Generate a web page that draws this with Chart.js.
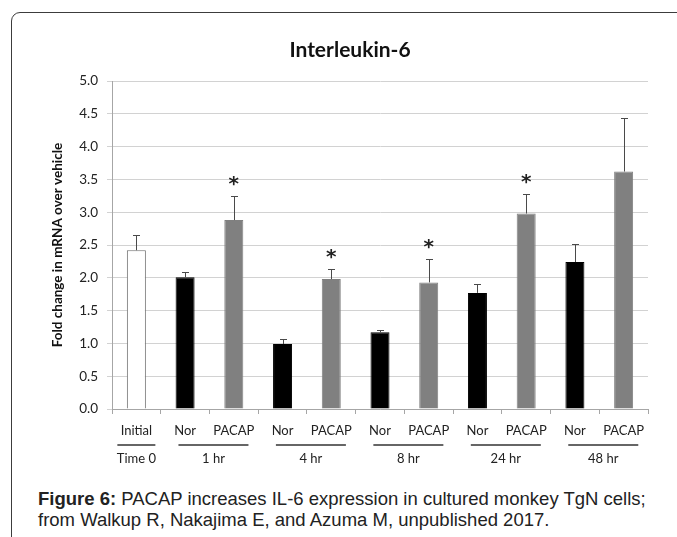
<!DOCTYPE html>
<html>
<head>
<meta charset="utf-8">
<script src="https://cdn.jsdelivr.net/npm/chart.js@4.4.1/dist/chart.umd.min.js"></script>
<style>
    html, body { margin: 0; padding: 0; background: #fff; }
    body { width: 677px; height: 537px; position: relative; overflow: hidden; }
    #frame {
        position: absolute; left: 11px; top: 12px; width: 720px; height: 600px;
        border: 1.5px solid #3c3c3c; border-radius: 9px; box-sizing: border-box;
    }
    #chart { position: absolute; left: 0; top: 0; }
    #title {
        position: absolute; left: 250px; top: 36px; width: 200px; text-align: center;
        font-family: Lato, "Open Sans", sans-serif; font-weight: bold; font-size: 21px;
        line-height: 26px; color: #111;
    }
    #caption {
        position: absolute; left: 38px; top: 488px; width: 640px;
        font-family: "Liberation Sans", Arial, sans-serif; font-size: 18.5px;
        line-height: 21px; color: #222; white-space: nowrap;
    }
</style>
</head>
<body>
<div id="frame"></div>
<canvas id="chart" width="677" height="475"></canvas>
<div id="title">Interleukin-6</div>
<div id="caption"><b>Figure 6:</b> PACAP increases IL-6 expression in cultured monkey TgN cells;<br>from Walkup R, Nakajima E, and Azuma M, unpublished 2017.</div>

<script>
let categories = ["Initial", "Nor", "PACAP", "Nor", "PACAP", "Nor", "PACAP", "Nor", "PACAP", "Nor", "PACAP"];
let foldChange = [2.42, 2.01, 2.88, 0.99, 1.98, 1.17, 1.93, 1.77, 2.98, 2.24, 3.62];
let errorTop = [2.65, 2.09, 3.24, 1.06, 2.14, 1.21, 2.28, 1.91, 3.27, 2.51, 4.43];
let significant = [false, false, true, false, true, false, true, false, true, false, false];
let groupNames = ["Time 0", "1 hr", "4 hr", "8 hr", "24 hr", "48 hr"];
let groupFirst = [0, 1, 3, 5, 7, 9];
let groupLast = [0, 2, 4, 6, 8, 10];
let yTicks = [0, 0.5, 1, 1.5, 2, 2.5, 3, 3.5, 4, 4.5, 5];

let chartFont = "Lato, 'Open Sans', sans-serif";

let fillColors = [];
let edgeColors = [];
for (let i = 0; i < categories.length; i++) {
    if (categories[i] === "Initial") {
        fillColors.push("#ffffff");
        edgeColors.push("#6e6e6e");
    } else if (categories[i] === "Nor") {
        fillColors.push("#000000");
        edgeColors.push("#000000");
    } else {
        fillColors.push("#808080");
        edgeColors.push("#808080");
    }
}

// error bars (upper only) and significance stars
let errorBars = {
    id: "errorBars",
    afterDatasetsDraw: function (chart) {
        let ctx = chart.ctx;
        let y = chart.scales.y;
        let bars = chart.getDatasetMeta(0).data;
        ctx.save();
        ctx.strokeStyle = "#4a4a4a";
        ctx.lineWidth = 1;
        for (let i = 0; i < bars.length; i++) {
            let x = Math.round(bars[i].x) + 0.5;
            let yBar = y.getPixelForValue(foldChange[i]);
            let yErr = Math.round(y.getPixelForValue(errorTop[i])) + 0.5;
            ctx.beginPath();
            ctx.moveTo(x, yBar);
            ctx.lineTo(x, yErr);
            ctx.moveTo(x - 3.5, yErr);
            ctx.lineTo(x + 3.5, yErr);
            ctx.stroke();
            if (significant[i]) {
                ctx.fillStyle = "#222";
                ctx.font = "bold 20px 'DejaVu Sans', sans-serif";
                ctx.textAlign = "center";
                ctx.textBaseline = "middle";
                ctx.fillText("*", bars[i].x, yErr - 12);
            }
        }
        ctx.restore();
    }
};

// second row of x labels: time groups with a rule above each
let timeGroups = {
    id: "timeGroups",
    afterDraw: function (chart) {
        let ctx = chart.ctx;
        let x = chart.scales.x;
        let base = chart.scales.y.bottom;
        ctx.save();
        ctx.strokeStyle = "#333";
        ctx.lineWidth = 1.3;
        ctx.fillStyle = "#222";
        ctx.font = "13px " + chartFont;
        ctx.textAlign = "center";
        ctx.textBaseline = "middle";
        for (let g = 0; g < groupNames.length; g++) {
            let a = x.getPixelForValue(groupFirst[g]);
            let b = x.getPixelForValue(groupLast[g]);
            let mid = groupFirst[g] === groupLast[g] ? a : (a + b) / 2 + 4;
            let half = groupFirst[g] === groupLast[g] ? 19 : 35;
            ctx.beginPath();
            ctx.moveTo(mid - half, base + 36);
            ctx.lineTo(mid + half, base + 36);
            ctx.stroke();
            ctx.fillText(groupNames[g], mid, base + 50);
        }
        ctx.restore();
    }
};

new Chart(document.getElementById("chart"), {
    type: "bar",
    data: {
        labels: categories,
        datasets: [{
            data: foldChange,
            backgroundColor: fillColors,
            borderColor: edgeColors,
            borderWidth: 1,
            barPercentage: 0.39,
            categoryPercentage: 1
        }]
    },
    options: {
        responsive: false,
        animation: false,
        layout: { padding: { left: 0, right: 29, top: 81, bottom: 0 } },
        plugins: {
            legend: { display: false },
            tooltip: { enabled: false },
            title: { display: false }
        },
        scales: {
            x: {
                grid: { drawOnChartArea: false, offset: true, tickLength: 5, color: "#a6a6a6" },
                border: { color: "#a6a6a6" },
                ticks: {
                    color: "#222", padding: 9, maxRotation: 0, autoSkip: false,
                    font: { family: chartFont, size: 13 }
                },
                afterFit: function (scale) { scale.height = 66; }
            },
            y: {
                min: 0,
                max: 5,
                afterBuildTicks: function (scale) {
                    scale.ticks = yTicks.map(function (v) { return { value: v }; });
                },
                ticks: {
                    color: "#222", padding: 9,
                    font: { family: chartFont, size: 13.5 },
                    callback: function (v) { return Number(v).toFixed(1); }
                },
                grid: { color: "#d2d2d2", tickLength: 5 },
                border: { color: "#a6a6a6" },
                title: {
                    display: true,
                    text: "Fold change in mRNA over vehicle",
                    color: "#111",
                    font: { family: chartFont, size: 13.5, weight: "bold" },
                    padding: { top: 50, bottom: 0 }
                },
                afterFit: function (scale) { scale.width = 112; }
            }
        }
    },
    plugins: [errorBars, timeGroups]
});
</script>
</body>
</html>
